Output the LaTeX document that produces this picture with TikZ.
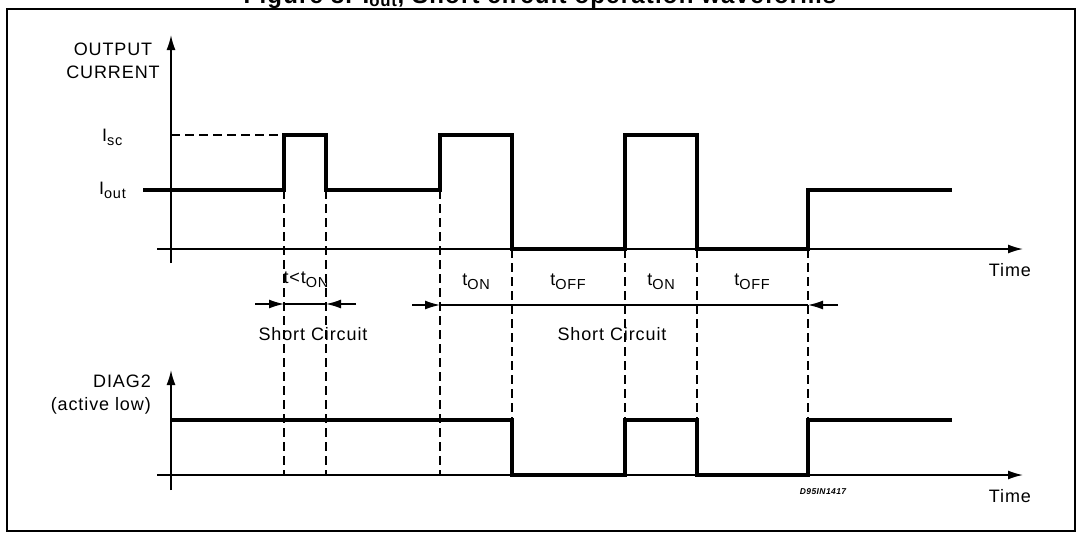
\documentclass[tikz,border=0pt]{standalone}
\usepackage{fontspec}
\setmainfont{Liberation Sans}[LetterSpace=5]
\usetikzlibrary{arrows.meta}
\newcommand\lsub[1]{\raisebox{-0.4ex}{\fontsize{14.5}{14.5}\selectfont #1}}
\begin{document}
\begin{tikzpicture}[x=1pt,y=-1pt,
  lbl/.style={font=\fontsize{18}{23}\selectfont, inner sep=0pt},
  wave/.style={line width=3.2pt, line join=miter},
  axis/.style={line width=1.6pt},
  guide/.style={line width=1.5pt, dash pattern=on 9pt off 5pt},
  meas/.style={line width=1.4pt},
  ahead/.style={-{Latex[length=15pt,width=9pt]}},
]
\useasboundingbox (0,0) rectangle (1082,536);
\begin{scope}
\clip (0,0) rectangle (1082,536);
% title (cut off by the page edge, as in the reference)
\node[font=\bfseries\fontsize{24}{26}\selectfont, anchor=base, inner sep=0pt] (title) at (540,3) {Figure 8. I\textsubscript{out}, Short circuit operation waveforms};
\end{scope}
\draw[line width=2.6pt] (7,9) rectangle (1075,531);

% axes
\coordinate (ua0) at (171,263); \coordinate (ua1) at (171,35);
\coordinate (ut0) at (157,249); \coordinate (ut1) at (1023,249);
\coordinate (la0) at (171,490); \coordinate (la1) at (171,370);
\coordinate (lt0) at (157,475); \coordinate (lt1) at (1023,475);
\draw[axis, ahead] (ua0) -- (ua1);
\draw[axis, ahead] (ut0) -- (ut1);
\draw[axis, ahead] (la0) -- (la1);
\draw[axis, ahead] (lt0) -- (lt1);

% guides
\draw[guide] (171,135) -- (284,135);
\foreach \x in {284,326,440} \draw[guide] (\x,190) -- (\x,475);
\foreach \x in {512,625,697,808} \draw[guide] (\x,249) -- (\x,475);

% waveforms
\draw[wave] (143,190) -- (284,190) -- (284,135) -- (326,135) -- (326,190) -- (440,190) -- (440,135) -- (512,135) -- (512,249) -- (625,249) -- (625,135) -- (697,135) -- (697,249) -- (808,249) -- (808,190) -- (952,190);
\draw[wave] (171,420) -- (512,420) -- (512,475) -- (625,475) -- (625,420) -- (697,420) -- (697,475) -- (808,475) -- (808,420) -- (952,420);

% measurement arrows
\coordinate (m1a) at (284,304); \coordinate (m1b) at (326,304);
\draw[meas] (m1a) -- (m1b);
\draw[meas, ahead] (255,304) -- (m1a);
\draw[meas, ahead] (356,304) -- (m1b);
\coordinate (m2a) at (440,305); \coordinate (m2b) at (808,305);
\draw[meas] (m2a) -- (m2b);
\draw[meas, ahead] (412,305) -- (m2a);
\draw[meas, ahead] (838,305) -- (m2b);

% labels
\node[lbl, align=center] (oc) at (113,61) {OUTPUT\\CURRENT};
\node[lbl, anchor=west] (isc) at (102,137) {I\lsub{sc}};
\node[lbl, anchor=west] (iout) at (99,190) {I\lsub{out}};
\node[lbl, align=right, anchor=east] (diag) at (151,395) {DIAG2\\(active low)};
\node[lbl] (time1) at (1010,270) {Time};
\node[lbl] (time2) at (1010,496) {Time};
\node[lbl] (tlt) at (306,280) {t<t\lsub{ON}};
\node[lbl] (ton1) at (476,282) {t\lsub{ON}};
\node[lbl] (toff1) at (568,282) {t\lsub{OFF}};
\node[lbl] (ton2) at (661,282) {t\lsub{ON}};
\node[lbl] (toff2) at (752,282) {t\lsub{OFF}};
\node[lbl] (sc1) at (313,334) {Short Circuit};
\node[lbl] (sc2) at (612,334) {Short Circuit};
\node[font=\bfseries\itshape\fontsize{8.5}{8.5}\selectfont, inner sep=0pt] (code) at (823,492) {D95IN1417};
\end{tikzpicture}
\end{document}
